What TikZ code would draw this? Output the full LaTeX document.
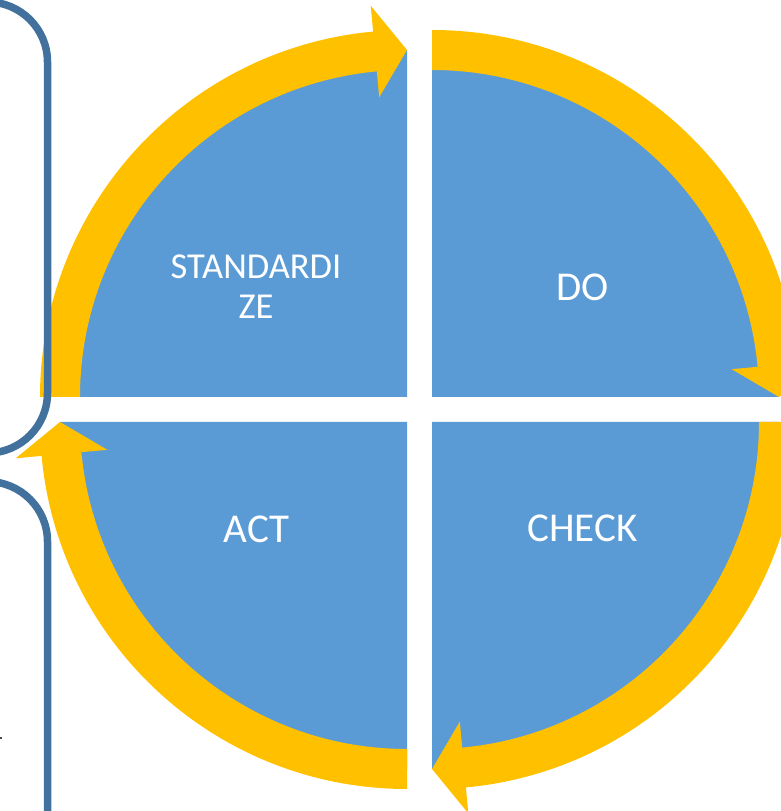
\documentclass[tikz,border=0pt]{standalone}
\usepackage{fontspec}
\setmainfont{Carlito}
\definecolor{quadblue}{HTML}{5B9BD5}
\definecolor{cyclegold}{HTML}{FFC000}
\definecolor{framedark}{HTML}{41719C}
\tikzset{
  quadrant/.style={fill=quadblue},
  cyclearrow/.style={fill=cyclegold},
  sideframe/.style={draw=framedark, line width=7.5pt},
  lbl/.style={text=white, font=\fontsize{41}{44}\selectfont, inner sep=0pt},
  lblsmall/.style={lbl, font=\fontsize{36.5}{40}\selectfont},
}
% quarter disc with its corner at #1, spanning angles #2 to #3
\newcommand\quarterdisc[3]{%
  \fill[quadrant, shift={#1}] (0,0) -- (#2:347) arc[start angle=#2, end angle=#3, radius=347] -- cycle;}
% clockwise circular arrow around #1, flat tail at angle #2, tip at angle #3
\newcommand\turnarrow[3]{%
  \fill[cyclearrow, shift={#1}]
    (#2:367) arc[start angle=#2, end angle=#3+5.3, radius=367]
    -- ({#3+5.3}:393) -- (#3:347) -- ({#3+5.3}:301) -- ({#3+5.3}:327)
    arc[start angle=#3+5.3, end angle=#2, radius=327] -- cycle;}
\begin{document}
\begin{tikzpicture}[x=1pt, y=1pt]
\useasboundingbox (0,0) rectangle (781,811);
\clip (0,0) rectangle (781,811);

% four quadrants
\quarterdisc{(407,414)}{180}{90}
\quarterdisc{(432,414)}{90}{0}
\quarterdisc{(432,389)}{0}{-90}
\quarterdisc{(407,389)}{270}{180}

% circular arrows, clockwise
\turnarrow{(407,414)}{180}{90}
\turnarrow{(432,414)}{90}{0}
\turnarrow{(432,389)}{0}{-90}
\turnarrow{(407,389)}{270}{180}

% labels
\node[lblsmall, anchor=base] (std1) at (256,532) {STANDARDI};
\node[lblsmall, anchor=base] (std2) at (256,492) {ZE};
\node[lbl, anchor=base] (do) at (582.5,510) {DO};
\node[lbl, anchor=base] (act) at (256.5,268.5) {ACT};
\node[lbl, anchor=base] (check) at (582.5,269) {CHECK};

% side frames
\draw[sideframe] (-40,809) -- (-12.5,809)
  arc[start angle=90, end angle=0, radius=60] -- (47.5,418)
  arc[start angle=0, end angle=-90, radius=60] -- (-40,358);
\draw[sideframe] (-40,329.4) -- (-12.5,329.4)
  arc[start angle=90, end angle=0, radius=60] -- (47.5,-20);
\fill[black!70] (0,72.3) rectangle (2,73.7);
\end{tikzpicture}
\end{document}
